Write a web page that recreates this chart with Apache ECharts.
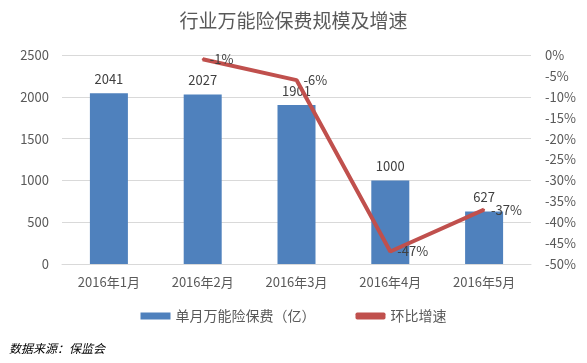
<!DOCTYPE html>
<html><head><meta charset="utf-8">
<script src="https://cdn.jsdelivr.net/npm/echarts@6/dist/echarts.min.js"></script>
<style>html,body{margin:0;padding:0;background:#fff}#c{width:587px;height:363px}</style>
</head><body><div id="c"></div>
<script>
const categories = ['2016年1月','2016年2月','2016年3月','2016年4月','2016年5月'];
const premium = [2041, 2027, 1901, 1000, 627];
const growth = [null, -1, -6, -47, -37];
const leftTicks = [0, 500, 1000, 1500, 2000, 2500];
const font = '"Microsoft YaHei","Noto Sans CJK SC",sans-serif';
const chart = echarts.init(document.getElementById('c'));
chart.setOption({
  animation: false,
  textStyle: {fontFamily: font},
  title: {text: '行业万能险保费规模及增速', left: 'center', top: 6,
    textStyle: {fontSize: 19, fontWeight: 'normal', color: '#595959', fontFamily: font}},
  graphic: [{type: 'text', left: 9, top: 342,
    style: {text: '数据来源：保监会', font: 'italic 12px ' + font, fill: '#000'}}],
  legend: {top: 304, left: 'center', itemGap: 40, itemWidth: 30, itemHeight: 7,
    textStyle: {fontSize: 14, color: '#595959', fontFamily: font},
    data: [{name: '单月万能险保费（亿）', icon: 'rect'}, {name: '环比增速', icon: 'roundRect'}]},
  grid: {left: 62, right: 56, top: 55, bottom: 99},
  xAxis: {type: 'category', data: categories,
    axisLine: {lineStyle: {color: '#D9D9D9'}}, axisTick: {show: false},
    axisLabel: {color: '#595959', fontSize: 13, margin: 12}},
  yAxis: [
    {type: 'value', min: 0, max: 2500, interval: 500,
      axisLabel: {color: '#595959', fontSize: 13, margin: 13, formatter: v => String(v)},
      splitLine: {lineStyle: {color: '#D9D9D9'}}, axisLine: {show: false}, axisTick: {show: false}},
    {type: 'value', min: -50, max: 0, interval: 5,
      axisLabel: {color: '#595959', fontSize: 13, margin: 14, formatter: '{value}%'},
      splitLine: {show: false}, axisLine: {show: false}, axisTick: {show: false}}
  ],
  series: [
    {name: '单月万能险保费（亿）', type: 'bar', data: premium, barWidth: 38,
      itemStyle: {color: '#4F81BD'},
      label: {show: true, position: 'top', color: '#404040', fontSize: 13, distance: 8}},
    {name: '环比增速', type: 'line', yAxisIndex: 1, data: growth,
      symbol: 'circle', symbolSize: 2, showSymbol: true,
      lineStyle: {color: '#C0504D', width: 4}, itemStyle: {color: '#C0504D'},
      label: {show: true, position: 'right', color: '#404040', fontSize: 13,
        formatter: p => p.value + '%', distance: 6}}
  ]
});
</script></body></html>
